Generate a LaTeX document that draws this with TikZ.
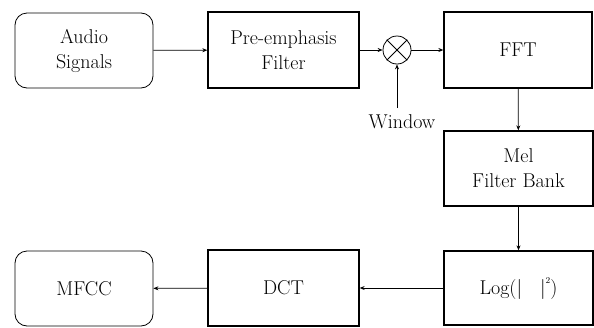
\documentclass[tikz,border=0pt]{standalone}
\usetikzlibrary{arrows.meta}
\begin{document}
\begin{tikzpicture}[x=1pt,y=-1pt,
  txt/.style={font=\fontsize{20}{25}\selectfont, align=center},
  blk/.style={draw, line width=1.3pt, inner sep=0pt, txt},
  rbox/.style={draw, line width=0.8pt, rounded corners=12pt, inner sep=0pt, txt},
  conn/.style={line width=0.8pt, -{Stealth[length=5pt,width=4pt]}}]
\useasboundingbox (0,0) rectangle (594,327);
\node[rbox, minimum width=138pt, minimum height=75pt] (audio) at (84,50.5) {Audio\\Signals};
\node[blk, minimum width=151pt, minimum height=76pt] (pre) at (283.5,50) {Pre-emphasis\\Filter};
\node[draw, circle, line width=0.8pt, minimum size=28pt, inner sep=0pt] (mul) at (397,50) {};
\draw[line width=0.8pt] (mul.north west) -- (mul.south east) (mul.north east) -- (mul.south west);
\node[blk, minimum width=148pt, minimum height=76pt] (fft) at (518,50) {FFT};
\node[txt, inner sep=0pt] (win) at (402,122) {Window};
\coordinate (wtop) at (397,108);
\node[blk, minimum width=149pt, minimum height=75pt] (mel) at (518.5,168.5) {Mel\\Filter Bank};
\node[blk, minimum width=149pt, minimum height=74pt] (log) at (518.5,288) {Log(|\hspace{0.9em}|\raisebox{0.55em}{\fontsize{9}{9}\selectfont 2})};
\node[blk, minimum width=151pt, minimum height=76pt] (dct) at (283.5,288) {DCT};
\node[rbox, minimum width=138pt, minimum height=75pt] (mfcc) at (84,288.5) {MFCC};
\draw[conn] (audio) -- (pre);
\draw[conn] (pre) -- (mul);
\draw[conn] (mul) -- (fft);
\draw[conn] (wtop) -- (mul.south);
\draw[conn] (fft) -- (mel);
\draw[conn] (mel) -- (log);
\draw[conn] (log) -- (dct);
\draw[conn] (dct) -- (mfcc);
\end{tikzpicture}
\end{document}
